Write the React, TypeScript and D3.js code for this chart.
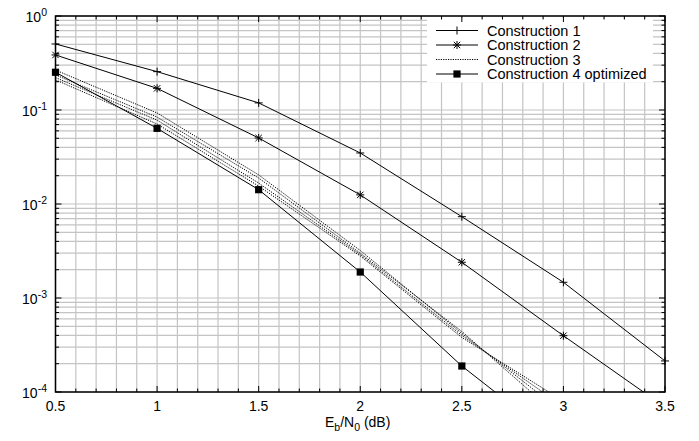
import React from "react";
import * as d3 from "d3";

const xValues = [0.5, 1, 1.5, 2, 2.5, 3, 3.5];
const construction1 = [0.504, 0.256, 0.119, 0.0349, 0.00733, 0.00147, 0.000214];
const construction2 = [0.385, 0.17, 0.0504, 0.0125, 0.0024, 0.000397, 0.000069];
const construction3a = [0.266, 0.093, 0.0204, 0.0032, 0.00042, 0.00006];
const construction3b = [0.236, 0.084, 0.0189, 0.0030, 0.00044, 0.00005];
const construction3c = [0.221, 0.078, 0.0167, 0.0029, 0.00040, 0.00007];
const construction3d = [0.209, 0.071, 0.0155, 0.0028, 0.00038, 0.00008];
const construction4 = [0.252, 0.0638, 0.0142, 0.00189, 0.000189, 0.000027];

const legendLabels = ["Construction 1", "Construction 2", "Construction 3", "Construction 4 optimized"];
const xTickLabels = ["0.5", "1", "1.5", "2", "2.5", "3", "3.5"];
const yDecades = [0, -1, -2, -3, -4];

const W = 699, H = 441;
const L = 55.5, R = 665, T = 16, B = 392;
const FONT = "'Liberation Sans', Arial, Helvetica, sans-serif";

function Marker({ type, x, y }: { type: string; x: number; y: number }) {
  if (type === "plus") {
    return (
      <g stroke="#000" strokeWidth={1}>
        <line x1={x - 4} x2={x + 4} y1={y} y2={y} />
        <line x1={x} x2={x} y1={y - 4} y2={y + 4} />
      </g>
    );
  }
  if (type === "star") {
    return (
      <g stroke="#000" strokeWidth={1}>
        <line x1={x - 4} x2={x + 4} y1={y} y2={y} />
        <line x1={x} x2={x} y1={y - 4} y2={y + 4} />
        <line x1={x - 3.2} x2={x + 3.2} y1={y - 3.2} y2={y + 3.2} />
        <line x1={x - 3.2} x2={x + 3.2} y1={y + 3.2} y2={y - 3.2} />
      </g>
    );
  }
  if (type === "square") {
    return <rect x={x - 3.6} y={y - 3.6} width={7.2} height={7.2} fill="#000" />;
  }
  return null;
}

export default function App() {
  const x = d3.scaleLinear().domain([0.5, 3.5]).range([L, R]);
  const y = d3.scaleLog().domain([1e-4, 1]).range([B, T]);

  const line = d3
    .line<[number, number]>()
    .x((d) => x(d[0]))
    .y((d) => y(d[1]));

  const pts = (vals: number[]) => vals.map((v, i) => [xValues[i], v] as [number, number]);

  const xMinor = d3.range(5, 36).map((v) => v / 10);
  const yMinor: number[] = [];
  for (let e = -4; e < 0; e++) for (let m = 1; m < 10; m++) yMinor.push(m * Math.pow(10, e));
  yMinor.push(1);

  const solidSeries = [
    { vals: construction1, marker: "plus" },
    { vals: construction2, marker: "star" },
    { vals: construction4, marker: "square" },
  ];
  const dottedSeries = [construction3a, construction3b, construction3c, construction3d];

  const legendX1 = 436, legendX2 = 478, legendTextX = 487;
  const legendRows = [30.5, 45, 59.5, 74];
  const legendMarkers = ["plus", "star", "none", "square"];

  return (
    <svg
      width={W}
      height={H}
      style={{ position: "absolute", left: 0, top: 0, background: "#fff" }}
      fontFamily={FONT}
    >
      <defs>
        <clipPath id="plotClip">
          <rect x={L} y={T} width={R - L} height={B - T} />
        </clipPath>
      </defs>
      <rect x={0} y={0} width={W} height={H} fill="#fff" />

      <g stroke="#c4c4c4" strokeWidth={1.2}>
        {xMinor.map((v, i) => (
          <line key={"gx" + i} x1={x(v)} x2={x(v)} y1={T} y2={B} />
        ))}
        {yMinor.map((v, i) => (
          <line key={"gy" + i} x1={L} x2={R} y1={y(v)} y2={y(v)} />
        ))}
      </g>

      <rect x={427} y={18.5} width={226} height={64} fill="#fff" />

      <g stroke="#000" strokeWidth={1}>
        {xMinor.map((v, i) => {
          const major = Math.abs(v * 2 - Math.round(v * 2)) < 1e-6;
          const len = major ? 6 : 3.5;
          return (
            <g key={"tx" + i}>
              <line x1={x(v)} x2={x(v)} y1={B} y2={B - len} />
              <line x1={x(v)} x2={x(v)} y1={T} y2={T + len} />
            </g>
          );
        })}
        {yMinor.map((v, i) => {
          const major = Math.abs(Math.log10(v) - Math.round(Math.log10(v))) < 1e-6;
          const len = major ? 6 : 3.5;
          return (
            <g key={"ty" + i}>
              <line x1={L} x2={L + len} y1={y(v)} y2={y(v)} />
              <line x1={R} x2={R - len} y1={y(v)} y2={y(v)} />
            </g>
          );
        })}
      </g>

      <rect x={L} y={T} width={R - L} height={B - T} fill="none" stroke="#000" strokeWidth={1.5} />

      <g clipPath="url(#plotClip)" fill="none">
        {dottedSeries.map((vals, i) => (
          <path
            key={"d" + i}
            d={line(pts(vals)) || ""}
            stroke="#000"
            strokeWidth={1}
            strokeDasharray="1.2,1.2"
          />
        ))}
        {solidSeries.map((s, i) => (
          <path key={"s" + i} d={line(pts(s.vals)) || ""} stroke="#000" strokeWidth={1} />
        ))}
      </g>
      {solidSeries.map((s, i) =>
        s.vals.map((v, j) =>
          v >= 1e-4 ? <Marker key={"m" + i + "-" + j} type={s.marker} x={x(xValues[j])} y={y(v)} /> : null
        )
      )}

      {legendLabels.map((lab, i) => (
        <g key={"lg" + i}>
          <line
            x1={legendX1}
            x2={legendX2}
            y1={legendRows[i]}
            y2={legendRows[i]}
            stroke="#000"
            strokeWidth={1}
            strokeDasharray={i === 2 ? "1.2,1.2" : undefined}
          />
          <Marker type={legendMarkers[i]} x={(legendX1 + legendX2) / 2} y={legendRows[i]} />
          <text x={legendTextX} y={legendRows[i] + 5} fontSize={14.5} fill="#000">
            {lab}
          </text>
        </g>
      ))}

      {xTickLabels.map((lab, i) => (
        <text key={"xl" + i} x={x(+lab)} y={410.5} fontSize={14} textAnchor="middle" fill="#000">
          {lab}
        </text>
      ))}

      {yDecades.map((e) => (
        <text key={"yl" + e} x={47} y={y(Math.pow(10, e)) + 6} fontSize={14} textAnchor="end" fill="#000">
          10
          <tspan fontSize={10.5} dy={-6}>
            {String(e)}
          </tspan>
        </text>
      ))}

      <text x={325} y={426.5} fontSize={14} fill="#000">
        E<tspan fontSize={10.5} dy={4}>b</tspan>
        <tspan dy={-4}>/N</tspan>
        <tspan fontSize={10.5} dy={4}>0</tspan>
        <tspan dy={-4}> (dB)</tspan>
      </text>
    </svg>
  );
}
